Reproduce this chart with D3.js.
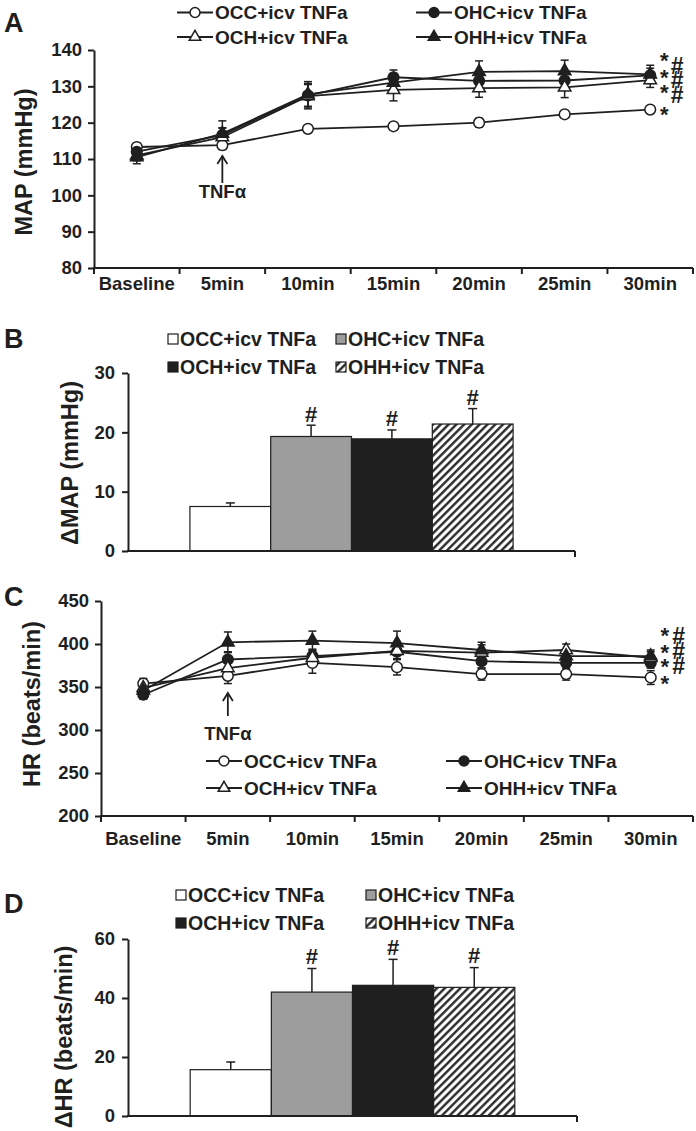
<!DOCTYPE html>
<html><head><meta charset="utf-8">
<script src="https://cdn.jsdelivr.net/npm/d3@7"></script>
<style>
body{margin:0;background:#fff;}
svg text{font-family:"Liberation Sans",Arial,Helvetica,sans-serif;font-weight:bold;fill:#1f1f1f;}
</style></head><body>
<svg id="chart" width="696" height="1131"></svg>
<script>
// ---------- DATA ----------
const timeLabels = ["Baseline","5min","10min","15min","20min","25min","30min"];
const groupNames = ["OCC+icv TNFa","OHC+icv TNFa","OCH+icv TNFa","OHH+icv TNFa"];

// Panel A: MAP (mmHg)
const mapOCC = [113.3,113.8,118.3,119.0,120.0,122.3,123.6];
const mapOHC = [112.0,116.6,127.5,132.5,131.5,131.6,133.0];
const mapOCH = [111.0,116.0,127.3,129.0,129.5,129.7,131.7];
const mapOHH = [110.5,117.0,127.8,131.0,134.0,134.2,133.3];
const mapOCCerr = [1.0,1.2,1.0,1.0,1.2,1.0,0.8];
const mapOHCerr = [1.5,2.0,3.0,2.0,2.5,2.5,2.0];
const mapOCHerr = [1.5,2.5,3.5,3.0,2.5,2.8,2.0];
const mapOHHerr = [1.8,3.5,3.5,2.5,3.0,3.0,2.5];
const mapTicks = [80,90,100,110,120,130,140];
const mapStars = [138.5,133.8,129.5,123.5];
const mapHashes = [135.7,131.8,127.6];

// Panel B: delta MAP
const dMap = [7.5,19.3,18.9,21.4];
const dMapErr = [0.6,1.9,1.5,2.6];
const dMapTicks = [0,10,20,30];
const dMapSig = ["","#","#","#"];

// Panel C: HR (beats/min)
const hrOCC = [354,363,378,373,365,365,361];
const hrOHC = [341,382,386,391,380,378,378];
const hrOCH = [349,372,384,392,390,393,384];
const hrOHH = [346,402,404,401,393,386,386];
const hrOCCerr = [6,9,12,9,7,7,8];
const hrOHCerr = [5,9,8,9,8,7,6];
const hrOCHerr = [6,9,8,9,9,7,7];
const hrOHHerr = [6,12,11,14,9,7,7];
const hrTicks = [200,250,300,350,400,450];
const hrStars = [415,395,379,359];
const hrHashes = [409,392,374];

// Panel D: delta HR
const dHr = [15.7,42.0,44.3,43.6];
const dHrErr = [2.6,8.0,8.8,6.7];
const dHrTicks = [0,20,40,60];
const dHrSig = ["","#","#","#"];

// ---------- DRAWING ----------
const svg = d3.select("#chart");
const INK = "#1f1f1f";
const defs = svg.append("defs");
const pat = defs.append("pattern").attr("id","hatch").attr("patternUnits","userSpaceOnUse")
  .attr("width",5.5).attr("height",5.5).attr("patternTransform","rotate(45)");
pat.append("rect").attr("width",5.5).attr("height",5.5).attr("fill","#fff");
pat.append("line").attr("x1",1.3).attr("x2",1.3).attr("y1",0).attr("y2",5.5)
  .attr("stroke",INK).attr("stroke-width",2.3);

const markerStyles = [
  {type:d3.symbolCircle, fill:"#fff", size:90},
  {type:d3.symbolCircle, fill:INK, size:90},
  {type:d3.symbolTriangle, fill:"#fff", size:68},
  {type:d3.symbolTriangle, fill:INK, size:68}
];
const barFills = ["#fff","#9d9d9d",INK,"url(#hatch)"];

function styleAxis(g, fs){
  g.selectAll("path.domain").attr("stroke",INK).attr("stroke-width",2);
  g.selectAll(".tick line").attr("stroke",INK).attr("stroke-width",2);
  g.selectAll(".tick text").attr("font-size",fs).attr("fill",INK)
    .style("font-family",'"Liberation Sans",Arial,sans-serif').style("font-weight","bold");
}

function yTitle(text, x, y){
  svg.append("text").attr("transform",`translate(${x},${y}) rotate(-90)`)
    .attr("text-anchor","middle").attr("font-size",23.5).text(text);
}
function letter(t, x, y){
  svg.append("text").attr("x",x).attr("y",y).attr("dominant-baseline","central")
    .attr("font-size",27).text(t);
}

// a column of marks as ONE text element, each glyph placed by x/y lists
function markColumn(g, ch, xc, centers, fs, baseOffset){
  g.append("text").attr("font-size",fs).attr("text-anchor","middle")
    .attr("x",centers.map(()=>xc).join(" "))
    .attr("y",centers.map(c=>(c+baseOffset*fs).toFixed(1)).join(" "))
    .text(ch.repeat(centers.length));
}

function linePanel(o){
  const x = d3.scaleBand().domain(timeLabels).range([o.left,o.right]);
  const y = d3.scaleLinear().domain(o.domain).range([o.bottom,o.top]);
  const bw = x.bandwidth();
  const cx = d => x(d)+bw/2;
  const g = svg.append("g");
  const ya = g.append("g").attr("transform",`translate(${o.left},0)`)
    .call(d3.axisLeft(y).tickValues(o.ticks).tickSize(6).tickSizeOuter(0).tickPadding(6).tickFormat(d3.format("d")));
  styleAxis(ya, 18.5);
  // x axis
  g.append("line").attr("x1",o.left-1).attr("x2",o.right).attr("y1",o.bottom).attr("y2",o.bottom)
    .attr("stroke",INK).attr("stroke-width",2);
  const bounds = timeLabels.map(d=>x(d)).concat([o.right]);
  g.selectAll(".bt").data(bounds).join("line").attr("x1",d=>d).attr("x2",d=>d)
    .attr("y1",o.bottom).attr("y2",o.bottom+6).attr("stroke",INK).attr("stroke-width",2);
  g.selectAll(".xl").data(timeLabels).join("text").attr("x",d=>cx(d)).attr("y",o.labelY)
    .attr("text-anchor","middle").attr("dominant-baseline","central").attr("font-size",18.5).text(d=>d);

  const line = d3.line().x((v,i)=>cx(timeLabels[i])).y(v=>y(v));
  // error bars
  o.series.forEach((s,k)=>{
    s.vals.forEach((v,i)=>{
      const X = cx(timeLabels[i]), e = s.err[i];
      g.append("line").attr("x1",X).attr("x2",X).attr("y1",y(v-e)).attr("y2",y(v+e)).attr("stroke",INK).attr("stroke-width",1.5);
      [v-e,v+e].forEach(t=>g.append("line").attr("x1",X-4).attr("x2",X+4).attr("y1",y(t)).attr("y2",y(t)).attr("stroke",INK).attr("stroke-width",1.5));
    });
  });
  o.series.forEach((s,k)=>{
    g.append("path").attr("d",line(s.vals)).attr("fill","none").attr("stroke",INK).attr("stroke-width",1.8);
  });
  o.series.forEach((s,k)=>{
    const m = markerStyles[k];
    g.selectAll(null).data(s.vals).join("path")
      .attr("transform",(v,i)=>`translate(${cx(timeLabels[i])},${y(v)})`)
      .attr("d",d3.symbol().type(m.type).size(m.size)).attr("fill",m.fill).attr("stroke",INK).attr("stroke-width",1.5);
  });
  // TNF arrow
  const ax = cx(timeLabels[1]);
  g.append("line").attr("x1",ax).attr("x2",ax).attr("y1",o.arrow[1]).attr("y2",o.arrow[0]).attr("stroke",INK).attr("stroke-width",1.8);
  g.append("path").attr("d",`M${ax-5},${o.arrow[0]+8}L${ax},${o.arrow[0]}L${ax+5},${o.arrow[0]+8}`)
    .attr("fill","none").attr("stroke",INK).attr("stroke-width",1.8);
  g.append("text").attr("x",ax).attr("y",o.arrow[2]).attr("text-anchor","middle").attr("dominant-baseline","central")
    .attr("font-size",18.5).text("TNFα");
  // significance marks
  const lx = cx(timeLabels[6]);
  markColumn(g,"*",lx+14,o.stars.map(v=>y(v)),22,0.55);
  markColumn(g,"#",lx+o.hashDx,o.hashes.map(v=>y(v)),23,0.35);
  // legend
  groupNames.forEach((name,k)=>{
    const c = [0,1,0,1][k], r = [0,0,1,1][k];
    const x0 = o.legX[c], yy = o.legY[r];
    g.append("line").attr("x1",x0).attr("x2",x0+36).attr("y1",yy).attr("y2",yy).attr("stroke",INK).attr("stroke-width",1.8);
    const m = markerStyles[k];
    g.append("path").attr("transform",`translate(${x0+18},${yy})`).attr("d",d3.symbol().type(m.type).size(m.size*0.85))
      .attr("fill",m.fill).attr("stroke",INK).attr("stroke-width",1.5);
    g.append("text").attr("x",x0+38).attr("y",yy).attr("dominant-baseline","central").attr("font-size",19).text(name);
  });
}

function barPanel(o){
  const y = d3.scaleLinear().domain(o.domain).range([o.bottom,o.top]);
  const w = o.right-o.left;
  const x = d3.scaleBand().domain(groupNames).range([o.left+w*0.1385,o.right-w*0.1385]).padding(0);
  const g = svg.append("g");
  const ya = g.append("g").attr("transform",`translate(${o.left},0)`)
    .call(d3.axisLeft(y).tickValues(o.ticks).tickSize(6).tickSizeOuter(0).tickPadding(7).tickFormat(d3.format("d")));
  styleAxis(ya, 18.5);
  g.selectAll(".bar").data(o.vals).join("rect")
    .attr("x",(v,i)=>x(groupNames[i])).attr("width",x.bandwidth())
    .attr("y",v=>y(v)).attr("height",v=>y(0)-y(v))
    .attr("fill",(v,i)=>barFills[i]).attr("stroke",INK).attr("stroke-width",1.2);
  o.vals.forEach((v,i)=>{
    const X = x(groupNames[i])+x.bandwidth()/2, top = y(v+o.err[i]);
    g.append("line").attr("x1",X).attr("x2",X).attr("y1",y(v)).attr("y2",top).attr("stroke",INK).attr("stroke-width",1.5);
    g.append("line").attr("x1",X-4.5).attr("x2",X+4.5).attr("y1",top).attr("y2",top).attr("stroke",INK).attr("stroke-width",1.5);
    if(o.sig[i]) g.append("text").attr("x",X).attr("y",top-o.sigGap).attr("text-anchor","middle")
      .attr("dominant-baseline","central").attr("font-size",22).text(o.sig[i]);
  });
  // x axis
  g.append("line").attr("x1",o.left-1).attr("x2",o.right).attr("y1",o.bottom).attr("y2",o.bottom).attr("stroke",INK).attr("stroke-width",2);
  g.append("line").attr("x1",o.right).attr("x2",o.right).attr("y1",o.bottom).attr("y2",o.bottom+6).attr("stroke",INK).attr("stroke-width",2);
  // legend
  groupNames.forEach((name,k)=>{
    const c=[0,1,0,1][k], r=[0,0,1,1][k];
    const x0=o.legX[c], yy=o.legY[r];
    g.append("rect").attr("x",x0).attr("y",yy-5).attr("width",10).attr("height",10)
      .attr("fill",barFills[k]).attr("stroke",INK).attr("stroke-width",1.2);
    g.append("text").attr("x",x0+12).attr("y",yy).attr("dominant-baseline","central").attr("font-size",19.5).text(name);
  });
}

// Panel A
letter("A",4,23);
yTitle("MAP (mmHg)",32,162);
linePanel({left:94,right:693,top:50,bottom:268,domain:[80,140],ticks:mapTicks,labelY:283,
  series:[{vals:mapOCC,err:mapOCCerr},{vals:mapOHC,err:mapOHCerr},{vals:mapOCH,err:mapOCHerr},{vals:mapOHH,err:mapOHHerr}],
  arrow:[156,183,191],stars:mapStars,hashes:mapHashes,hashDx:27,legX:[177,416],legY:[12.5,37]});

// Panel B
letter("B",4,339);
yTitle("ΔMAP (mmHg)",78,463);
barPanel({left:128,right:575,top:373,bottom:551,domain:[0,30],ticks:dMapTicks,vals:dMap,err:dMapErr,sig:dMapSig,sigGap:11,
  legX:[168,336],legY:[339,367]});

// Panel C
letter("C",4,597);
yTitle("HR (beats/min)",40,704);
linePanel({left:101,right:693,top:601,bottom:816,domain:[200,450],ticks:hrTicks,labelY:838,
  series:[{vals:hrOCC,err:hrOCCerr},{vals:hrOHC,err:hrOHCerr},{vals:hrOCH,err:hrOCHerr},{vals:hrOHH,err:hrOHHerr}],
  arrow:[693,716,733],stars:hrStars,hashes:hrHashes,hashDx:28,legX:[206,446],legY:[761,788]});

// Panel D
letter("D",4,904);
yTitle("ΔHR (beats/min)",72,1037);
barPanel({left:128,right:577,top:939,bottom:1116,domain:[0,60],ticks:dHrTicks,vals:dHr,err:dHrErr,sig:dHrSig,sigGap:12,
  legX:[176,366],legY:[895,923]});
</script>
</body></html>
